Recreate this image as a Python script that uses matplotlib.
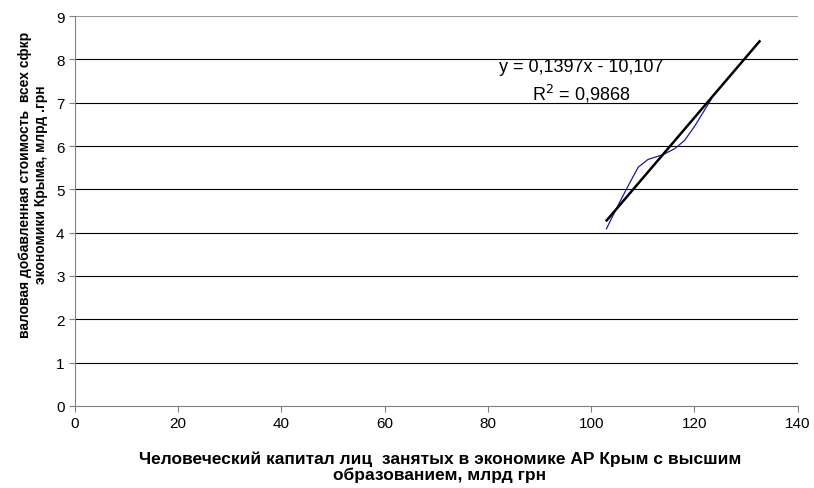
import numpy as np
import matplotlib
matplotlib.use("Agg")
import matplotlib.pyplot as plt

plt.rcParams['font.family'] = ['Liberation Sans', 'DejaVu Sans']

# data (smoothed blue series)
cap_x = [102.95, 105.2, 107.2, 109.1, 111.0, 113.9, 116.2, 118.1, 120.1, 121.7, 123.3]
gva_y = [4.09, 4.63, 5.09, 5.51, 5.69, 5.80, 5.94, 6.13, 6.47, 6.78, 7.09]

# linear trend from the chart
slope = 0.1397
intercept = -10.107
trend_x = [103.0, 132.6]

x_ticks = [0, 20, 40, 60, 80, 100, 120, 140]
y_ticks = [0, 1, 2, 3, 4, 5, 6, 7, 8, 9]

fig = plt.figure(figsize=(8.14, 4.89), dpi=100)
ax = fig.add_axes([0.092, 0.168, 0.888, 0.797])

for yv in y_ticks[1:]:
    ax.axhline(yv, color='#000000' if yv < 9 else '#999999', linewidth=0.8, zorder=1)

ax.plot(cap_x, gva_y, color='#1a1aa0', linewidth=0.9, zorder=3)
tx = np.array(trend_x)
ax.plot(tx, slope * tx + intercept, color='black', linewidth=1.8, zorder=4)

ax.text(98.0, 7.83, 'y = 0,1397x - 10,107', ha='center', va='center', fontsize=13)
ax.text(98.0, 7.22, 'R$^2$ = 0,9868', ha='center', va='center', fontsize=13)

ax.set_xlim(0, 140)
ax.set_ylim(0, 9)
ax.set_xticks(x_ticks)
ax.set_yticks(y_ticks)
ax.tick_params(direction='out', length=4, width=0.8, color='#808080', labelsize=11)
for s in ['top', 'right']:
    ax.spines[s].set_visible(False)
for s in ['left', 'bottom']:
    ax.spines[s].set_color('#808080')
    ax.spines[s].set_linewidth(0.8)

fig.text(440 / 814, 1 - 467 / 489,
         'Человеческий капитал лиц  занятых в экономике АР Крым с высшим\nобразованием, млрд грн',
         ha='center', va='center', fontsize=12.5, fontweight='bold', linespacing=1.05)
fig.text(33 / 814, 1 - 185 / 489,
         'валовая добавленная стоимость  всех сфкр\nэкономики Крыма, млрд .грн',
         ha='center', va='center', rotation=90, fontsize=10, fontweight='bold', linespacing=1.15)

fig.savefig('out.png', dpi=100)
